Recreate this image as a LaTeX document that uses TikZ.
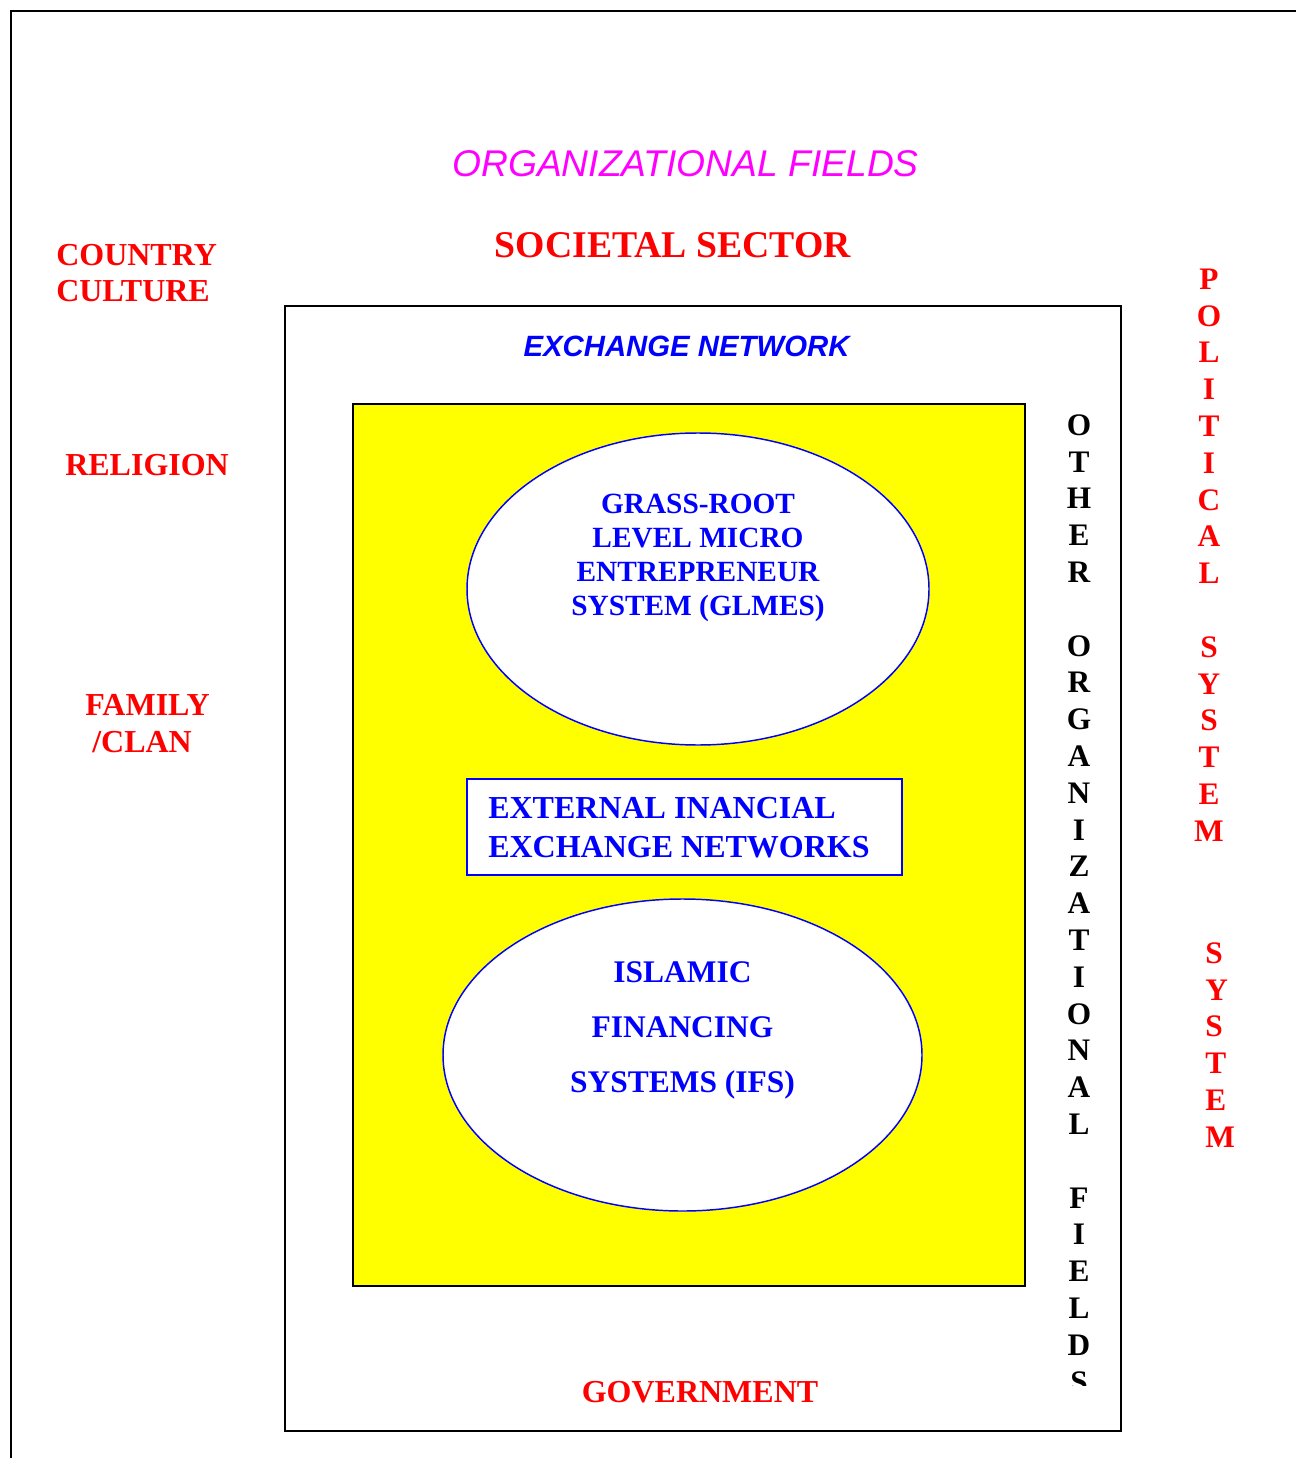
\documentclass[tikz,border=0pt]{standalone}
\usepackage{fontspec}
\setmainfont{Liberation Serif}
\setsansfont{Liberation Sans}
\usepackage{tikz}

\definecolor{fieldyellow}{RGB}{255,255,0}
\definecolor{orgmagenta}{RGB}{255,0,255}
\definecolor{lblred}{RGB}{255,0,0}
\definecolor{lblblue}{RGB}{0,0,255}

\tikzset{
  redlbl/.style={text=lblred, inner sep=0pt, font=\bfseries\fontsize{24}{28}\selectfont},
  bluelbl/.style={text=lblblue, inner sep=0pt, font=\bfseries\fontsize{22}{26}\selectfont},
  vletter/.style={inner sep=0pt, font=\bfseries\fontsize{23.5}{28}\selectfont},
}

\begin{document}
\begin{tikzpicture}[x=0.75pt,y=-0.75pt]
  \useasboundingbox (0,0) rectangle (1296,1458);
  % page frame
  \draw[line width=1.5pt] (1296,11) -- (11,11) -- (11,1458);
  % exchange network box and yellow field
  \draw[line width=1.4pt] (285,306) rectangle (1121,1431);
  \draw[line width=1.4pt,fill=fieldyellow] (353,404) rectangle (1025,1286);
  \draw[lblblue,line width=1.1pt,fill=white] (698,589) ellipse [x radius=231, y radius=156];
  \draw[lblblue,line width=1.1pt,fill=white] (682.5,1055) ellipse [x radius=239.5, y radius=156];
  \draw[lblblue,line width=1.4pt,fill=white] (467,779) rectangle (902,875);

  % titles
  \node[anchor=base,text=orgmagenta,inner sep=0pt,font=\sffamily\itshape\fontsize{27.9}{33}\selectfont]
    (orgf) at (685.5,177) {ORGANIZATIONAL FIELDS};
  \node[redlbl,anchor=base,font=\bfseries\fontsize{28.3}{33}\selectfont] (soc) at (673,258) {SOCIETAL SECTOR};
  \node[anchor=base,text=lblblue,inner sep=0pt,font=\sffamily\bfseries\itshape\fontsize{22}{26}\selectfont]
    (exnet) at (686.5,357) {EXCHANGE NETWORK};
  \node[redlbl,anchor=base] (gov) at (700,1402) {GOVERNMENT};

  % left side
  \node[redlbl,anchor=base west] (cty) at (56,266) {COUNTRY};
  \node[redlbl,anchor=base west] (cul) at (56,302) {CULTURE};
  \node[redlbl,anchor=base west] (rel) at (65,475) {RELIGION};
  \node[redlbl,anchor=base west] (fam) at (85,715) {FAMILY};
  \node[redlbl,anchor=base west] (clan) at (92,752) {/CLAN};

  % GLMES ellipse
  \node[bluelbl,anchor=base] (g1) at (698,513) {GRASS-ROOT};
  \node[bluelbl,anchor=base] (g2) at (698,547) {LEVEL MICRO};
  \node[bluelbl,anchor=base] (g3) at (698,581) {ENTREPRENEUR};
  \node[bluelbl,anchor=base] (g4) at (698,615) {SYSTEM (GLMES)};

  % external networks box
  \node[bluelbl,anchor=base west,font=\bfseries\fontsize{24}{28}\selectfont] (e1) at (488,818) {EXTERNAL INANCIAL};
  \node[bluelbl,anchor=base west,font=\bfseries\fontsize{24}{28}\selectfont] (e2) at (488,857) {EXCHANGE NETWORKS};

  % IFS ellipse
  \node[bluelbl,anchor=base,font=\bfseries\fontsize{23.6}{28}\selectfont] (i1) at (682.5,982) {ISLAMIC};
  \node[bluelbl,anchor=base,font=\bfseries\fontsize{23.6}{28}\selectfont] (i2) at (682.5,1037) {FINANCING};
  \node[bluelbl,anchor=base,font=\bfseries\fontsize{23.6}{28}\selectfont] (i3) at (682.5,1092) {SYSTEMS (IFS)};

  % vertical words
  \begin{scope}
    \clip (1040,380) rectangle (1118,1385);
    \foreach \l [count=\i from 0] in {O,T,H,E,R,{},O,R,G,A,N,I,Z,A,T,I,O,N,A,L,{},F,I,E,L,D,S}
      \node[vletter] (oth\i) at (1079,425+36.8*\i) {\l};
  \end{scope}
  \foreach \l [count=\i from 0] in {P,O,L,I,T,I,C,A,L,{},S,Y,S,T,E,M}
    \node[vletter,text=lblred] (pol\i) at (1209,279+36.8*\i) {\l};
  \foreach \l [count=\i from 0] in {S,Y,S,T,E,M}
    \node[vletter,text=lblred,anchor=west] (sys\i) at (1205,953+36.8*\i) {\l};
\end{tikzpicture}
\end{document}
